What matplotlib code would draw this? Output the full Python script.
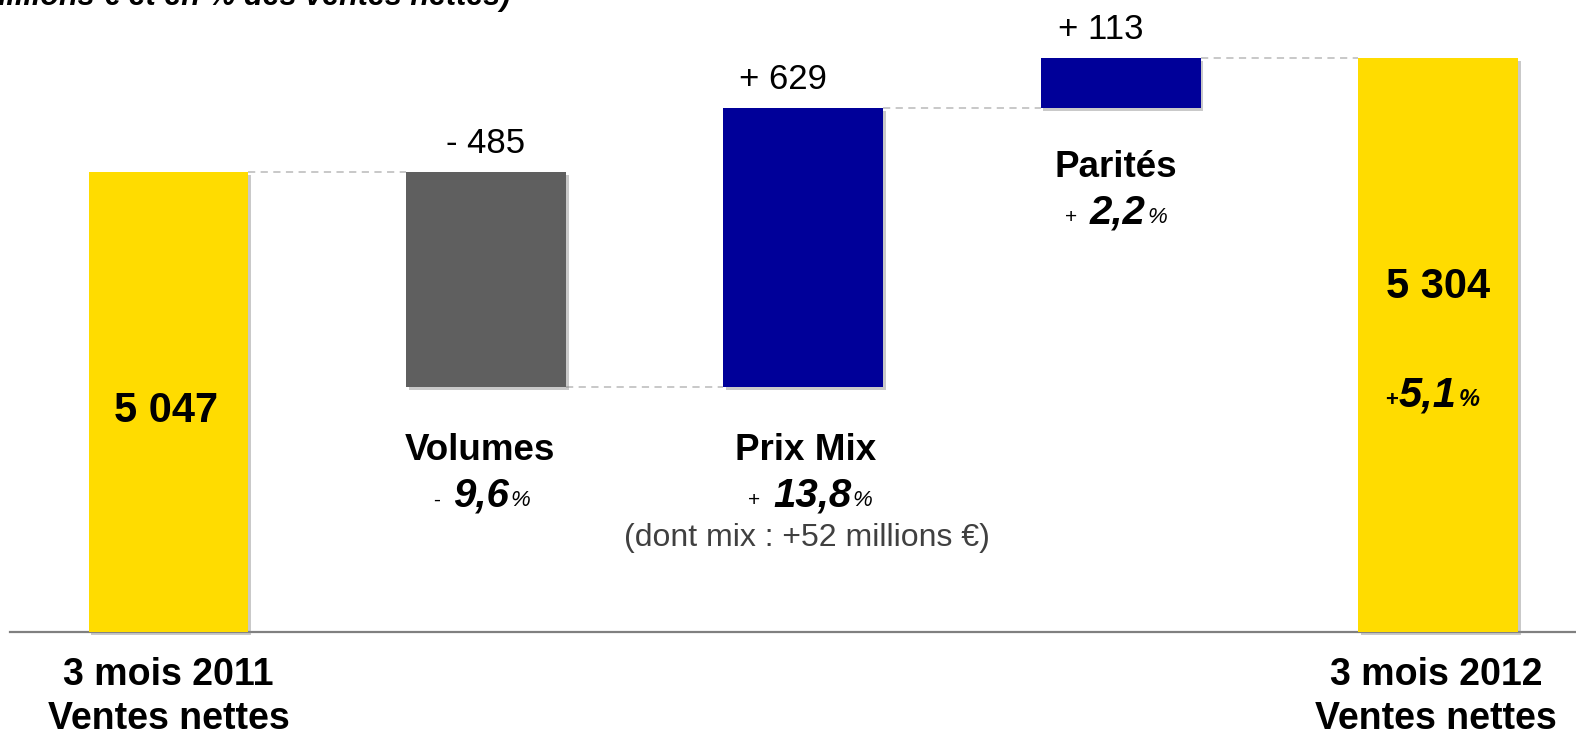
import matplotlib
matplotlib.use("Agg")
import matplotlib.pyplot as plt
import matplotlib.patheffects as pe
from matplotlib.offsetbox import TextArea, HPacker, AnnotationBbox

plt.rcParams['font.family'] = ['Liberation Sans', 'DejaVu Sans']

# ---- data ----
start_label = "3 mois 2011\nVentes nettes"
end_label = "3 mois 2012\nVentes nettes"
start_value = 5047
end_value = 5304
step_names = ["Volumes", "Prix Mix", "Parités"]
step_values = [-485, 629, 113]
step_pct_sign = ["-", "+", "+"]
step_pct = ["9,6", "13,8", "2,2"]
step_note = ["", "(dont mix : +52 millions €)", ""]
total_pct = "5,1"
header = "(en millions € et en % des ventes nettes)"

BASE = 4010  # broken value axis starts here

YELLOW = "#FFDC00"
GREY = "#5F5F5F"
BLUE = "#000099"

W, H = 1576, 736
fig = plt.figure(figsize=(W / 100, H / 100), dpi=100)
ax = fig.add_axes([10 / W, 104 / H, 1 - 10 / W, 632 / H])
ax.set_xlim(-0.4994, 4.4345)
ax.set_ylim(BASE, 5435)
for s in ["left", "right", "top"]:
    ax.spines[s].set_visible(False)
ax.spines["bottom"].set_color("#808080")
ax.spines["bottom"].set_linewidth(1.6)
ax.set_yticks([])
ax.set_xticks([])

shadow = [pe.SimplePatchShadow(offset=(2, -2), shadow_rgbFace="#888888", alpha=0.45), pe.Normal()]
bw = 0.504

# compute waterfall
bottoms, heights, colors = [], [], []
bottoms.append(BASE); heights.append(start_value - BASE); colors.append(YELLOW)
level = start_value
for v in step_values:
    if v < 0:
        bottoms.append(level + v); heights.append(-v); colors.append(GREY)
    else:
        bottoms.append(level); heights.append(v); colors.append(BLUE)
    level += v
bottoms.append(BASE); heights.append(end_value - BASE); colors.append(YELLOW)
xs = list(range(len(bottoms)))

bars = ax.bar(xs, heights, bottom=bottoms, width=bw, color=colors, zorder=3, clip_on=False)
for b in bars:
    b.set_path_effects(shadow)

# connectors
levels = [start_value]
lv = start_value
for v in step_values:
    lv += v
    levels.append(lv)
for i, lv_ in enumerate(levels):
    ax.plot([i + bw / 2, i + 1 - bw / 2], [lv_, lv_], color="#C4C4C4", lw=1.3,
            linestyle=(0, (4, 3)), zorder=2)

PT = 0.72  # points per pixel


def ann(text, x, y, dy_px, dx_px=0, **kw):
    ax.annotate(text, (x, y), xytext=(dx_px * PT, dy_px * PT), textcoords="offset points",
                ha="center", va="center", annotation_clip=False, **kw)


def pct_box(parts, x, y, dy_px, dx_px=0):
    areas = [TextArea(t, textprops=p) for t, p in parts]
    box = HPacker(children=areas, align="baseline", pad=0, sep=1)
    ab = AnnotationBbox(box, (x, y), xybox=(dx_px * PT, dy_px * PT), xycoords="data",
                        boxcoords="offset points", frameon=False, box_alignment=(0.5, 0.5),
                        annotation_clip=False)
    ax.add_artist(ab)


name_dx = [-6, 2, -5]
pct_dx = [-4, 7, -5]
name_dy = [-63, -63, -59]
pct_dy = [-108, -108, -104]

# step value labels & names
for i, v in enumerate(step_values):
    x = i + 1
    top = bottoms[x] + heights[x]
    bot = bottoms[x]
    sign = "+" if v > 0 else "-"
    ann(f"{sign} {abs(v)}", x, top, 29, dx_px=(-20 if v > 0 else 0), fontsize=25)
    ann(step_names[i], x, bot, name_dy[i], dx_px=name_dx[i], fontsize=26.5, fontweight="bold")
    pct_box([(step_pct_sign[i] + "  ", dict(fontsize=15, color="black")),
             (step_pct[i], dict(fontsize=29, fontweight="bold", fontstyle="italic", color="black")),
             ("%", dict(fontsize=16, fontstyle="italic", color="black"))],
            x, bot, pct_dy[i], dx_px=pct_dx[i])
    if step_note[i]:
        ann(step_note[i], x, bot, -151, dx_px=4, fontsize=23, color="#404040")

# totals
ann(f"{start_value // 1000} {start_value % 1000:03d}", 0, start_value, -239, dx_px=-2,
    fontsize=30, fontweight="bold")
ann(f"{end_value // 1000} {end_value % 1000:03d}", 4, end_value, -229,
    fontsize=30, fontweight="bold")
pct_box([("+", dict(fontsize=16, fontweight="bold", color="black")),
         (total_pct, dict(fontsize=30, fontweight="bold", fontstyle="italic", color="black")),
         ("%", dict(fontsize=17, fontweight="bold", fontstyle="italic", color="black"))],
        4, end_value, -337, dx_px=-6)

# category labels below axis
ann(start_label, 0, BASE, -65, fontsize=27, fontweight="bold", linespacing=1.26)
ann(end_label, 4, BASE, -65, dx_px=-2, fontsize=27, fontweight="bold", linespacing=1.26)

# clipped header (cut off at the top edge, as in the source)
fig.text(510 / W, 1 - 5 / H, header, ha="right", va="baseline", fontsize=22,
         fontweight="bold", fontstyle="italic")

fig.savefig("out.png", dpi=100)
